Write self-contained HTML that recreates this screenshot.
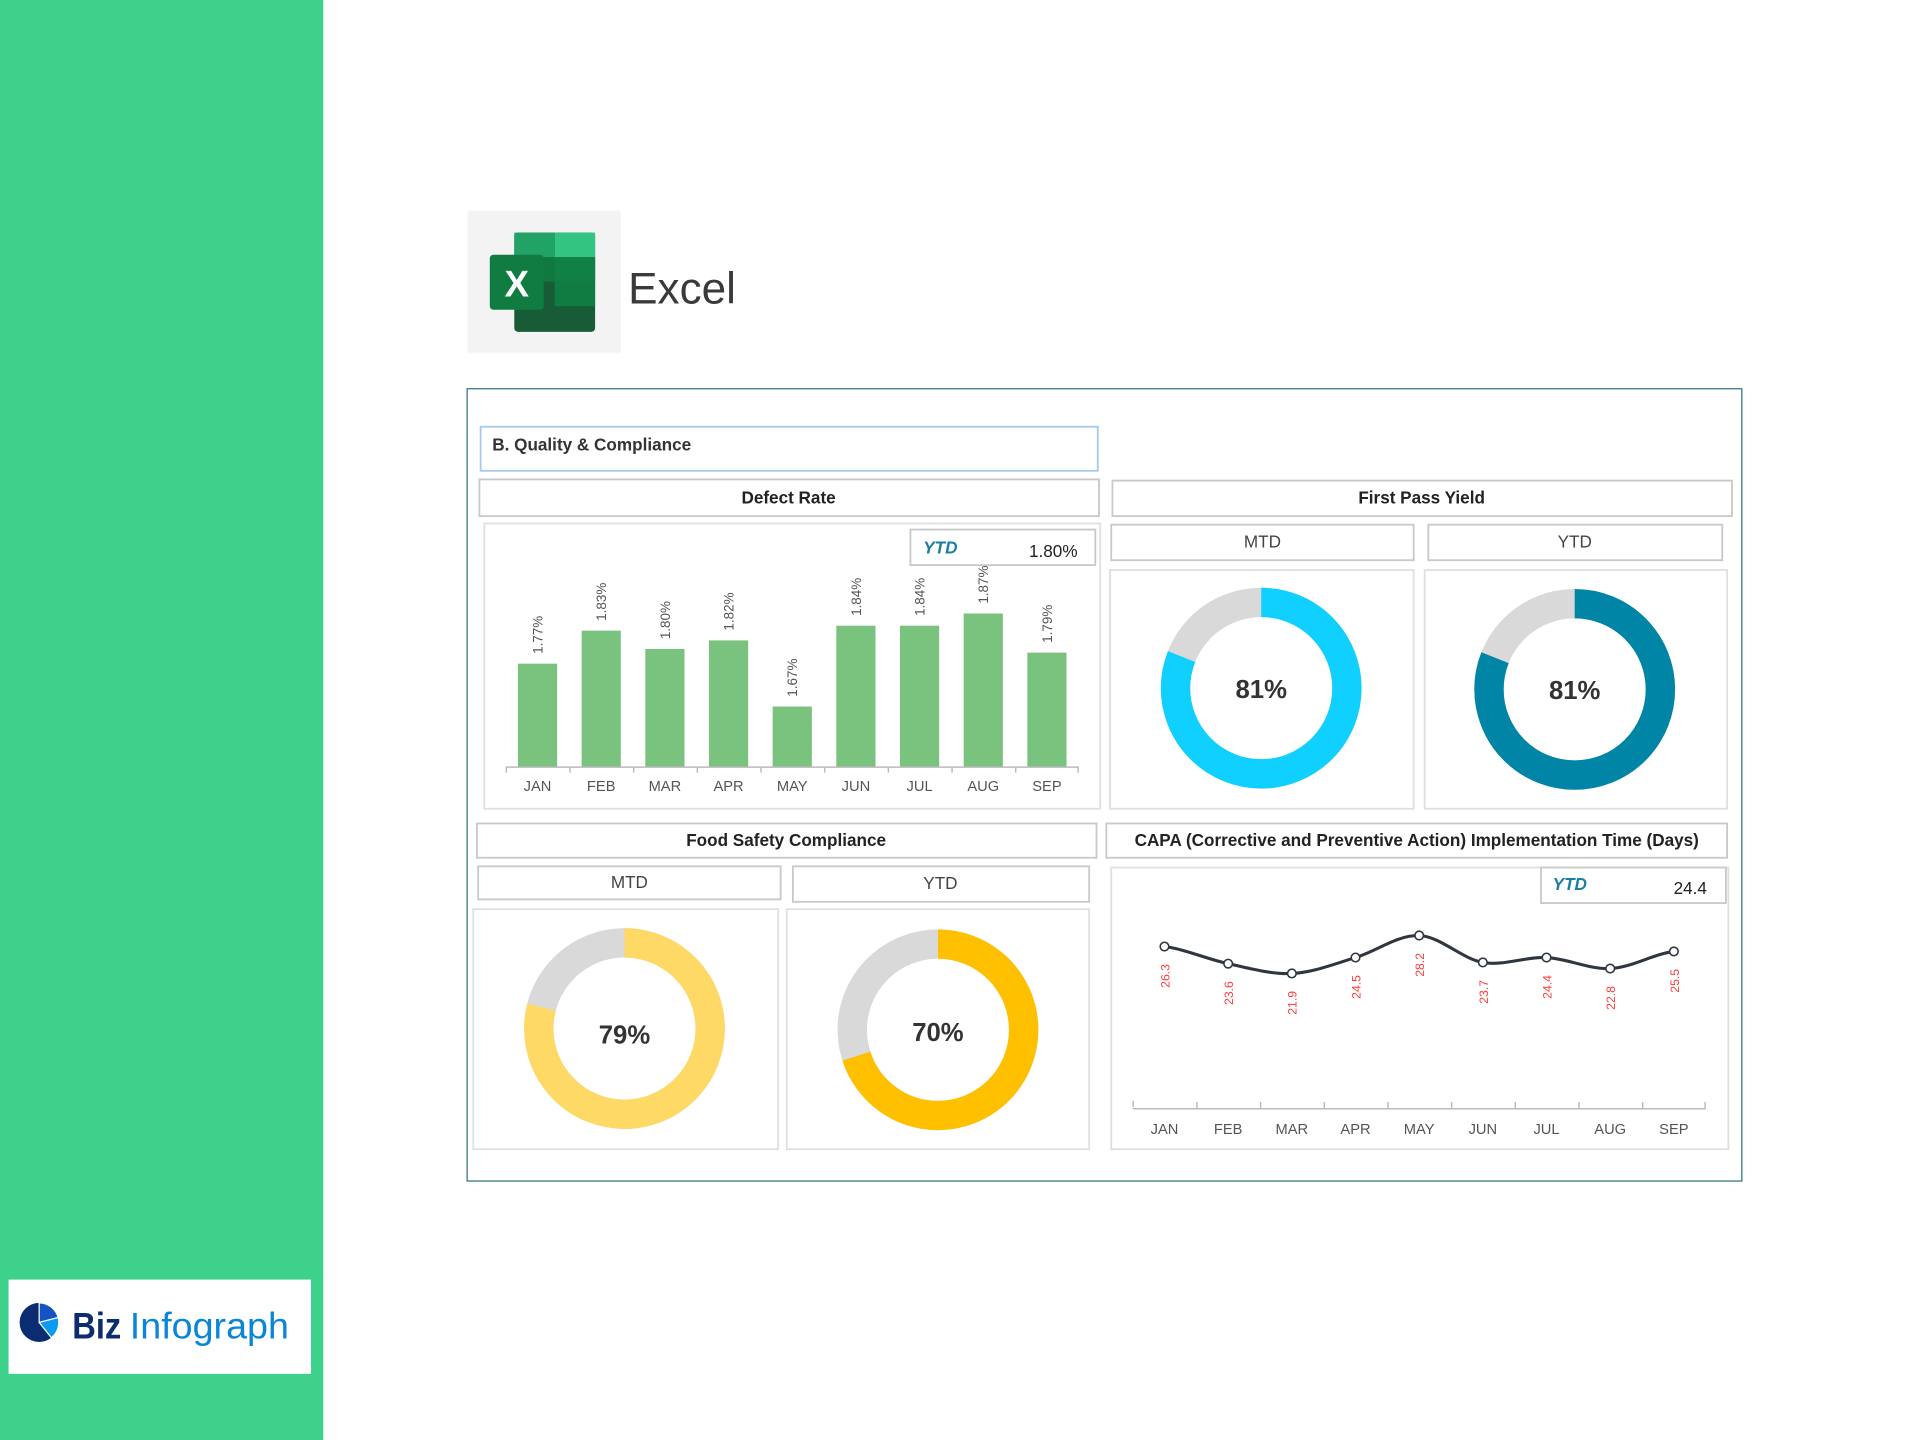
<!DOCTYPE html>
<html><head><meta charset="utf-8"><style>
html,body{margin:0;padding:0;background:#fff;}
svg{display:block;}
text{font-family:"Liberation Sans",sans-serif;}
</style></head><body>
<svg width="1920" height="1440" viewBox="0 0 1568 1176" xmlns="http://www.w3.org/2000/svg">
<rect x="0" y="0" width="1568" height="1176" fill="#fff"/>
<rect x="0" y="0" width="264" height="1176" fill="#3dd18c"/>
<!-- logo -->
<rect x="7" y="1045" width="247" height="77" fill="#fff"/>
<circle cx="32" cy="1080" r="16" fill="#0b2c6e"/>
<path d="M32 1080 L32 1064 A16 16 0 0 1 47.5 1076 Z" fill="#1553c4" stroke="#fff" stroke-width="1"/>
<path d="M32 1080 L47.5 1076 A16 16 0 0 1 42 1092.5 Z" fill="#0a9bf0" stroke="#fff" stroke-width="1"/>
<text x="59" y="1093" font-size="30" font-weight="bold" fill="#0b2c6e" style="font-family:'Liberation Sans Narrow','Liberation Sans',sans-serif" textLength="40" lengthAdjust="spacingAndGlyphs">Biz</text>
<text x="106" y="1093" font-size="30" fill="#0a86d8" style="font-family:'Liberation Sans Narrow','Liberation Sans',sans-serif" textLength="130" lengthAdjust="spacingAndGlyphs">Infograph</text>
<!-- excel -->
<rect x="382" y="172" width="125" height="116" fill="#f3f3f3"/>
<rect x="420" y="190" width="66" height="81" rx="3" fill="#185c37"/>
<rect x="453" y="190" width="33" height="20" fill="#33c481"/>
<rect x="420" y="190" width="33" height="20" fill="#21a366"/>
<rect x="453" y="210" width="33" height="20" fill="#21a366"/>
<rect x="420" y="210" width="66" height="20" fill="#107c41" opacity="0.9"/>
<rect x="453" y="230" width="33" height="20" fill="#107c41"/>
<rect x="400" y="208" width="44" height="45" rx="3" fill="#107c41"/>
<text x="422" y="242" font-size="30" fill="#fff" text-anchor="middle" font-weight="bold">X</text>
<text x="513" y="248" font-size="36" fill="#3a3a3a" textLength="88" lengthAdjust="spacingAndGlyphs">Excel</text>
<!-- main frame -->
<rect x="381.5" y="317.5" width="1041" height="647" fill="#fff" stroke="#2d7080" stroke-width="1"/>
<rect x="392.5" y="348.5" width="504" height="36" fill="#fff" stroke="#a9c9ea" stroke-width="1.5"/>
<text x="402" y="368" font-size="14" font-weight="bold" fill="#333">B. Quality &amp; Compliance</text>

<g fill="#fff" stroke="#c9c9c9" stroke-width="1.5">
<rect x="391.5" y="391.5" width="506" height="30"/>
<rect x="395.5" y="427.5" width="503" height="233" stroke="#e0e0e0"/>
<rect x="743.5" y="432.5" width="151" height="29"/>
<rect x="908.5" y="392.5" width="506" height="29"/>
<rect x="907.5" y="428.5" width="247" height="29"/>
<rect x="1166.5" y="428.5" width="240" height="29"/>
<rect x="906.5" y="465.5" width="248" height="195" stroke="#e0e0e0"/>
<rect x="1163.5" y="465.5" width="247" height="195" stroke="#e0e0e0"/>
<rect x="389.5" y="672.5" width="506" height="28"/>
<rect x="390.5" y="707.5" width="247" height="27"/>
<rect x="647.5" y="707.5" width="242" height="29"/>
<rect x="386.5" y="742.5" width="249" height="196" stroke="#e0e0e0"/>
<rect x="642.5" y="742.5" width="247" height="196" stroke="#e0e0e0"/>
<rect x="903.5" y="672.5" width="507" height="28"/>
<rect x="907.5" y="708.5" width="504" height="230" stroke="#e0e0e0"/>
<rect x="1258.5" y="708.5" width="151" height="29"/>
</g>
<g font-size="14" font-weight="bold" fill="#222" text-anchor="middle">
<text x="644" y="411">Defect Rate</text>
<text x="1161" y="411">First Pass Yield</text>
<text x="642" y="691">Food Safety Compliance</text>
<text x="1157" y="691">CAPA (Corrective and Preventive Action) Implementation Time (Days)</text>
</g>
<g font-size="14" fill="#444" text-anchor="middle">
<text x="1031" y="447">MTD</text>
<text x="1286" y="447">YTD</text>
<text x="514" y="725">MTD</text>
<text x="768" y="726">YTD</text>
</g>
<g font-size="14" font-weight="bold" font-style="italic" fill="#1a7fa0">
<text x="754" y="452">YTD</text>
<text x="1268" y="727">YTD</text>
</g>
<text x="880" y="455" font-size="14" fill="#222" text-anchor="end">1.80%</text>
<text x="1394" y="730" font-size="14" fill="#222" text-anchor="end">24.4</text>

<!-- bars -->
<g fill="#79c37f">
<rect x="423" y="542" width="32" height="84"/>
<rect x="475" y="515" width="32" height="111"/>
<rect x="527" y="530" width="32" height="96"/>
<rect x="579" y="523" width="32" height="103"/>
<rect x="631" y="577" width="32" height="49"/>
<rect x="683" y="511" width="32" height="115"/>
<rect x="735" y="511" width="32" height="115"/>
<rect x="787" y="501" width="32" height="125"/>
<rect x="839" y="533" width="32" height="93"/>
</g>
<path d="M413 626.5 H881 M413.5 626 v5 M465.5 626 v5 M517.5 626 v5 M569.5 626 v5 M621.5 626 v5 M673.5 626 v5 M725.5 626 v5 M777.5 626 v5 M829.5 626 v5 M880.5 626 v5" stroke="#bbb" stroke-width="1.2" fill="none"/>
<g font-size="12" fill="#555" text-anchor="middle">
<text x="439" y="646">JAN</text><text x="491" y="646">FEB</text><text x="543" y="646">MAR</text>
<text x="595" y="646">APR</text><text x="647" y="646">MAY</text><text x="699" y="646">JUN</text>
<text x="751" y="646">JUL</text><text x="803" y="646">AUG</text><text x="855" y="646">SEP</text>
</g>
<g font-size="11" fill="#555">
<text transform="translate(443,534) rotate(-90)">1.77%</text>
<text transform="translate(495,507) rotate(-90)">1.83%</text>
<text transform="translate(547,522) rotate(-90)">1.80%</text>
<text transform="translate(599,515) rotate(-90)">1.82%</text>
<text transform="translate(651,569) rotate(-90)">1.67%</text>
<text transform="translate(703,503) rotate(-90)">1.84%</text>
<text transform="translate(755,503) rotate(-90)">1.84%</text>
<text transform="translate(807,493) rotate(-90)">1.87%</text>
<text transform="translate(859,525) rotate(-90)">1.79%</text>
</g>

<!-- donuts -->
<g fill="none" stroke-width="24">
<circle cx="1030" cy="562" r="70" stroke="#d9d9d9"/>
<circle cx="1030" cy="562" r="70" stroke="#0fd0fe" stroke-dasharray="356.2 439.8" transform="rotate(-90 1030 562)"/>
<circle cx="1286" cy="563" r="70" stroke="#d9d9d9"/>
<circle cx="1286" cy="563" r="70" stroke="#0085a6" stroke-dasharray="356.2 439.8" transform="rotate(-90 1286 563)"/>
<circle cx="510" cy="840" r="70" stroke="#d9d9d9"/>
<circle cx="510" cy="840" r="70" stroke="#ffd966" stroke-dasharray="347.4 439.8" transform="rotate(-90 510 840)"/>
<circle cx="766" cy="841" r="70" stroke="#d9d9d9"/>
<circle cx="766" cy="841" r="70" stroke="#ffc000" stroke-dasharray="307.9 439.8" transform="rotate(-90 766 841)"/>
</g>
<g font-size="21" font-weight="bold" fill="#333" text-anchor="middle">
<text x="1030" y="570">81%</text>
<text x="1286" y="571">81%</text>
<text x="510" y="852">79%</text>
<text x="766" y="850">70%</text>
</g>

<!-- line chart -->
<path d="M951 773 C968.3 775.3 985.7 783.3 1003 787 C1020.3 790.7 1037.7 795.8 1055 795 C1072.3 794.2 1089.7 787.2 1107 782 C1124.3 776.8 1141.7 763.3 1159 764 C1176.3 764.7 1193.7 783 1211 786 C1228.3 789 1245.7 781.2 1263 782 C1280.3 782.8 1297.7 791.8 1315 791 C1332.3 790.2 1349.7 779.3 1367 777" fill="none" stroke="#2f3640" stroke-width="2.5"/>
<g fill="#fff" stroke="#2f3640" stroke-width="1.3">
<circle cx="951" cy="773" r="3.5"/><circle cx="1003" cy="787" r="3.5"/><circle cx="1055" cy="795" r="3.5"/>
<circle cx="1107" cy="782" r="3.5"/><circle cx="1159" cy="764" r="3.5"/><circle cx="1211" cy="786" r="3.5"/>
<circle cx="1263" cy="782" r="3.5"/><circle cx="1315" cy="791" r="3.5"/><circle cx="1367" cy="777" r="3.5"/>
</g>
<g font-size="10" fill="#ff3b3b" text-anchor="middle">
<text transform="translate(955,797) rotate(-90)">26.3</text>
<text transform="translate(1007,811) rotate(-90)">23.6</text>
<text transform="translate(1059,819) rotate(-90)">21.9</text>
<text transform="translate(1111,806) rotate(-90)">24.5</text>
<text transform="translate(1163,788) rotate(-90)">28.2</text>
<text transform="translate(1215,810) rotate(-90)">23.7</text>
<text transform="translate(1267,806) rotate(-90)">24.4</text>
<text transform="translate(1319,815) rotate(-90)">22.8</text>
<text transform="translate(1371,801) rotate(-90)">25.5</text>
</g>
<path d="M925 905.5 H1393 M925.5 904 v-5 M977.5 905 v-5 M1029.5 905 v-5 M1081.5 905 v-5 M1133.5 905 v-5 M1185.5 905 v-5 M1237.5 905 v-5 M1289.5 905 v-5 M1341.5 905 v-5 M1392.5 905 v-5" stroke="#bbb" stroke-width="1.2" fill="none"/>
<g font-size="12" fill="#555" text-anchor="middle">
<text x="951" y="926">JAN</text><text x="1003" y="926">FEB</text><text x="1055" y="926">MAR</text>
<text x="1107" y="926">APR</text><text x="1159" y="926">MAY</text><text x="1211" y="926">JUN</text>
<text x="1263" y="926">JUL</text><text x="1315" y="926">AUG</text><text x="1367" y="926">SEP</text>
</g>
</svg>
</body></html>
